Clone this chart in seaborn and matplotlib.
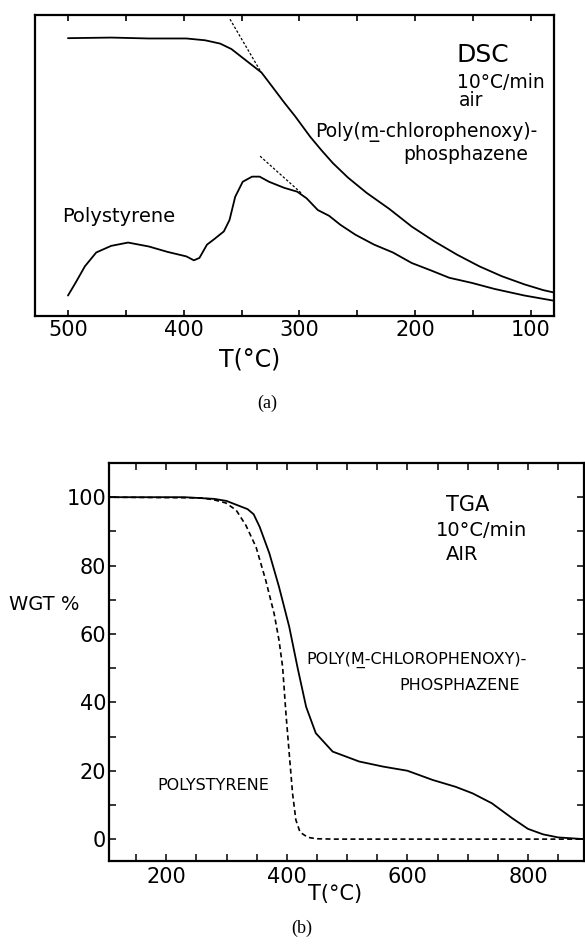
import matplotlib
matplotlib.use("Agg")
import matplotlib.pyplot as plt
import pandas as pd
import seaborn as sns
from matplotlib.ticker import MultipleLocator

# ---------------- DSC (panel a) ----------------
dsc_poly_T = [500, 462.7, 430.2, 397.7, 381.5, 368.5, 358.8, 345.8, 332.8, 323.1, 313.3, 303.6,
              290.6, 280.8, 271.1, 258.1, 241.9, 222.4, 202.9, 183.4, 163.9, 144.5, 125, 105.5, 89.3, 78.9]
dsc_poly_S = [92.3, 92.5, 92.2, 92.2, 91.6, 90.5, 88.7, 84.8, 80.9, 76.0, 71.0, 66.3,
              59.5, 55.0, 50.8, 46.0, 40.9, 35.6, 29.7, 24.8, 20.4, 16.5, 13.2, 10.5, 8.6, 7.7]
dsc_ps_T = [500, 493.5, 485.4, 475.6, 462.7, 448.1, 430.2, 414, 397.7, 391.2, 386.4, 379.9, 373.4,
            365.3, 360.4, 355.5, 349, 340.9, 334.4, 326.3, 313.3, 301.9, 293.8, 284.1, 274.4, 264.6,
            251.6, 235.4, 219.2, 202.9, 186.7, 170.5, 151, 131.5, 105.5, 78.9]
dsc_ps_S = [6.8, 11.0, 16.5, 21.1, 23.3, 24.4, 23.1, 21.3, 19.8, 18.5, 19.3, 23.7, 25.6,
            28.1, 31.9, 39.6, 44.6, 46.3, 46.3, 44.6, 42.6, 41.3, 39.1, 35.2, 33.3, 30.3,
            27.0, 23.7, 21.1, 17.6, 15.2, 12.7, 11.0, 9.0, 6.8, 5.0]
tan1_T = [360, 333]
tan1_S = [98.6, 80.9]
tan2_T = [334, 298]
tan2_S = [53.1, 40.7]
dsc_ticks = [100, 200, 300, 400, 500]

# ---------------- TGA (panel b) ----------------
tga_poly_T = [100, 230, 280, 300, 316, 335, 345, 355, 371, 387, 404, 418, 432, 448, 476, 520,
              560, 600, 642, 680, 708, 740, 774, 800, 825, 850, 893]
tga_poly_W = [100, 100, 99.5, 98.9, 97.8, 96.5, 95.0, 91.3, 83.6, 73.8, 62.1, 50.0, 38.7, 31.0, 25.6, 22.7,
              21.2, 20.0, 17.3, 15.3, 13.4, 10.5, 6.1, 3.0, 1.4, 0.5, 0]
tga_ps_T = [100, 260, 282, 299, 316, 332, 349, 365, 379, 387, 393, 398.5, 404, 409.5, 415, 422,
            435, 450, 480, 893]
tga_ps_W = [100, 99.8, 99.1, 98.3, 96.2, 91.8, 85.4, 75.7, 65.9, 58.2, 50.4, 36.8, 25.0, 13.4, 5.6, 2.0,
            0.5, 0.1, 0, 0]
tga_xticks = [200, 400, 600, 800]
tga_yticks = [0, 20, 40, 60, 80, 100]

sns.set_theme(style="white")
plt.rcParams['font.family'] = ['DejaVu Sans']
plt.rcParams['text.color'] = 'black'
plt.rcParams['axes.labelcolor'] = 'black'

W, H = 585, 944
fig = plt.figure(figsize=(W / 100, H / 100), dpi=100)

# ---------- panel a ----------
axa = fig.add_axes([35 / W, 1 - 316 / H, 519 / W, 301 / H])
df_a1 = pd.DataFrame({"T": dsc_poly_T, "S": dsc_poly_S})
df_a2 = pd.DataFrame({"T": dsc_ps_T, "S": dsc_ps_S})
sns.lineplot(data=df_a1, x="T", y="S", ax=axa, color="black", lw=1.3, sort=False, estimator=None)
sns.lineplot(data=df_a2, x="T", y="S", ax=axa, color="black", lw=1.3, sort=False, estimator=None)
sns.lineplot(x=tan1_T, y=tan1_S, ax=axa, color="black", lw=0.9, linestyle=(0, (2, 1.5)), sort=False, estimator=None)
sns.lineplot(x=tan2_T, y=tan2_S, ax=axa, color="black", lw=0.9, linestyle=(0, (2, 1.5)), sort=False, estimator=None)
axa.set_xlim(528.5, 80)
axa.set_ylim(0, 100)
axa.set_xticks(dsc_ticks)
axa.xaxis.set_minor_locator(MultipleLocator(50))
axa.set_yticks([])
axa.set_xlabel("")
axa.set_ylabel("")
axa.tick_params(axis="x", which="both", direction="in", top=True, bottom=True, length=4, width=1.2,
                labelsize=15, pad=3, colors="black")
for s in axa.spines.values():
    s.set_linewidth(1.6)
    s.set_color("black")
axa.text(164, 86.7, "DSC", fontsize=18, va="center", ha="left")
axa.text(164, 77.6, "10°C/min", fontsize=13.5, va="center", ha="left")
axa.text(162, 71.6, "air", fontsize=13.5, va="center", ha="left")
axa.text(286.5, 61.2, "Poly(m\u0332-chlorophenoxy)-", fontsize=13.5, va="center", ha="left")
axa.text(102, 53.5, "phosphazene", fontsize=13.5, va="center", ha="right")
axa.text(505, 33.2, "Polystyrene", fontsize=14, va="center", ha="left")

fig.text(250 / W, 1 - 360 / H, "T(°C)", fontsize=17, ha="center", va="center")
fig.text(267 / W, 1 - 403 / H, "(a)", fontsize=13, ha="center", va="center", family="Liberation Serif")

# ---------- panel b ----------
axb = fig.add_axes([109 / W, 1 - 861 / H, (584 - 109) / W, (861 - 463) / H])
df_b1 = pd.DataFrame({"T": tga_poly_T, "W": tga_poly_W})
df_b2 = pd.DataFrame({"T": tga_ps_T, "W": tga_ps_W})
sns.lineplot(data=df_b1, x="T", y="W", ax=axb, color="black", lw=1.3, sort=False, estimator=None)
sns.lineplot(data=df_b2, x="T", y="W", ax=axb, color="black", lw=1.2, linestyle=(0, (3, 2)), sort=False, estimator=None)
axb.set_xlim(105, 893)
axb.set_ylim(-6.4, 110)
axb.set_xticks(tga_xticks)
axb.set_yticks(tga_yticks)
axb.xaxis.set_minor_locator(MultipleLocator(50))
axb.yaxis.set_minor_locator(MultipleLocator(10))
axb.set_xlabel("")
axb.set_ylabel("")
axb.tick_params(axis="both", which="both", direction="in", top=True, bottom=True, left=True, right=True,
                length=5, width=1.1, labelsize=15, colors="black")
axb.tick_params(axis="x", pad=4)
axb.tick_params(axis="y", pad=2)
for s in axb.spines.values():
    s.set_linewidth(1.6)
    s.set_color("black")
axb.text(664, 97.7, "TGA", fontsize=15, va="center", ha="left")
axb.text(648, 90.4, "10°C/min", fontsize=14, va="center", ha="left")
axb.text(664, 83.3, "AIR", fontsize=14, va="center", ha="left")
axb.text(432, 52.3, "POLY(M\u0332-CHLOROPHENOXY)-", fontsize=11.5, va="center", ha="left")
axb.text(586, 45, "PHOSPHAZENE", fontsize=11.5, va="center", ha="left")
axb.text(185, 15.8, "POLYSTYRENE", fontsize=11.5, va="center", ha="left")

fig.text(9 / W, 1 - 605 / H, "WGT %", fontsize=14, ha="left", va="center")
fig.text(335 / W, 1 - 894 / H, "T(°C)", fontsize=15, ha="center", va="center")
fig.text(302 / W, 1 - 928 / H, "(b)", fontsize=13, ha="center", va="center", family="Liberation Serif")

fig.savefig("out.png", dpi=100, facecolor="white")
